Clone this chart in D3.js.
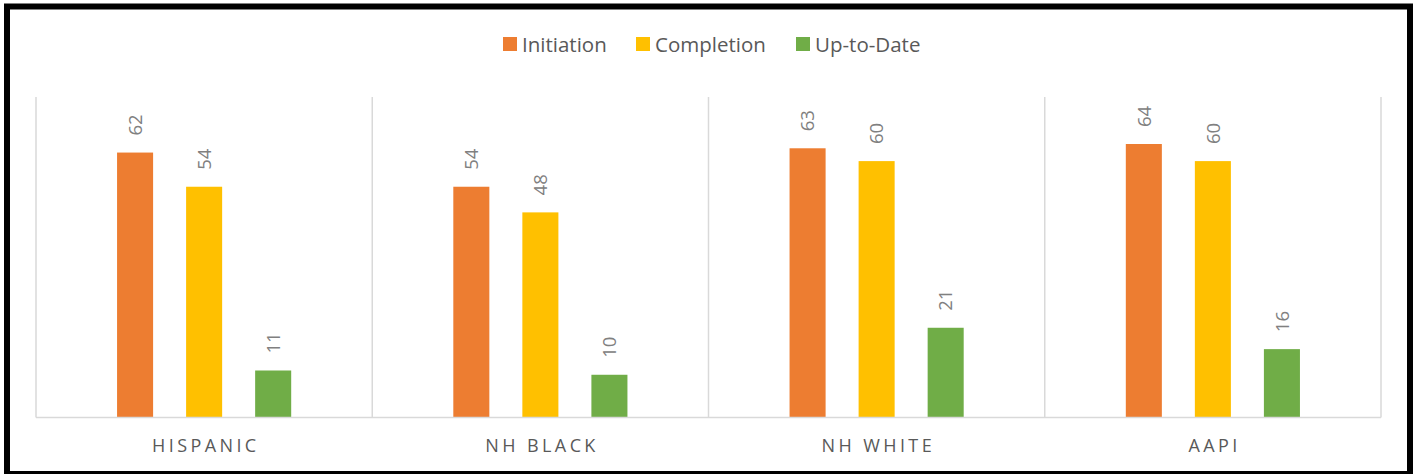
<!DOCTYPE html>
<html lang="en">
<head>
  <meta charset="UTF-8">
  <title>Vaccination by group</title>
  <style>
    body { margin: 0; background: #fff; }
    svg { display: block; font-family: "Open Sans", sans-serif; }
  </style>
</head>
<body>
  <svg></svg>
  <script src="https://d3js.org/d3.v7.min.js"></script>
  <script>
    var categories = ["HISPANIC", "NH BLACK", "NH WHITE", "AAPI"];
    var seriesNames = ["Initiation", "Completion", "Up-to-Date"];
    var colors = ["#ED7D31", "#FFC000", "#70AD47"];
    var initiation = [62, 54, 63, 64];
    var completion = [54, 48, 60, 60];
    var upToDate = [11, 10, 21, 16];
    var seriesValues = [initiation, completion, upToDate];

    var width = 1416;
    var height = 474;
    var plot = { left: 36, right: 1381, top: 97, bottom: 417.5 };

    var svg = d3.select("svg")
        .attr("width", width)
        .attr("height", height);

    // outer frame
    svg.append("rect")
        .attr("x", 7).attr("y", 6.5)
        .attr("width", 1403).attr("height", 467.5)
        .attr("fill", "#fff")
        .attr("stroke", "#000")
        .attr("stroke-width", 6);

    var xScale = d3.scaleBand()
        .domain(categories)
        .range([plot.left, plot.right]);

    var inner = d3.scaleBand()
        .domain(seriesNames)
        .range([0, xScale.bandwidth()])
        .paddingInner(0.478)
        .paddingOuter(1.174);

    var yScale = d3.scaleLinear()
        .domain([0, 75])
        .range([plot.bottom, plot.top]);

    // category separators
    svg.append("g")
      .selectAll("line")
      .data(categories.concat([null]))
      .enter()
      .append("line")
        .attr("x1", (d, i) => i < categories.length ? xScale(d) : plot.right)
        .attr("x2", (d, i) => i < categories.length ? xScale(d) : plot.right)
        .attr("y1", plot.top)
        .attr("y2", plot.bottom)
        .attr("stroke", "#d9d9d9")
        .attr("stroke-width", 1.5);

    var rows = [];
    categories.forEach((c, ci) => {
      seriesNames.forEach((s, si) => {
        rows.push({ cat: c, series: s, color: colors[si], value: seriesValues[si][ci] });
      });
    });

    svg.append("g")
      .selectAll("rect")
      .data(rows)
      .enter()
      .append("rect")
        .attr("x", d => xScale(d.cat) + inner(d.series))
        .attr("y", d => yScale(d.value))
        .attr("width", inner.bandwidth())
        .attr("height", d => yScale(0) - yScale(d.value))
        .attr("fill", d => d.color);

    // value labels, rotated
    svg.append("g")
      .selectAll("text")
      .data(rows)
      .enter()
      .append("text")
        .attr("transform", d => "translate(" + (xScale(d.cat) + inner(d.series) + inner.bandwidth() / 2) +
              "," + (yScale(d.value) - 17) + ") rotate(-90)")
        .attr("dy", "0.36em")
        .attr("font-size", 18.5)
        .attr("fill", "#808080")
        .text(d => d.value);

    // baseline
    svg.append("line")
        .attr("x1", plot.left).attr("x2", plot.right)
        .attr("y1", plot.bottom).attr("y2", plot.bottom)
        .attr("stroke", "#d9d9d9")
        .attr("stroke-width", 1.5);

    // category labels
    svg.append("g")
      .selectAll("text")
      .data(categories)
      .enter()
      .append("text")
        .attr("x", d => xScale(d) + xScale.bandwidth() / 2 + 1.7)
        .attr("y", 452)
        .attr("text-anchor", "middle")
        .attr("font-size", 18)
        .attr("letter-spacing", "3.4px")
        .attr("fill", "#595959")
        .text(d => d);

    // legend
    var legendX = [503, 636, 796];
    var legend = svg.append("g")
      .selectAll("g")
      .data(seriesNames)
      .enter()
      .append("g")
        .attr("transform", (d, i) => "translate(" + legendX[i] + ",37)");
    legend.append("rect")
        .attr("width", 14).attr("height", 14)
        .attr("fill", (d, i) => colors[i]);
    legend.append("text")
        .attr("x", 19).attr("y", 15)
        .attr("font-size", 20.5)
        .attr("fill", "#595959")
        .text(d => d);
  </script>
</body>
</html>
